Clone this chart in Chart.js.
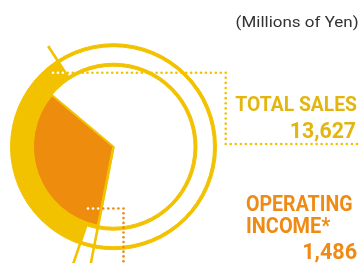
<!DOCTYPE html>
<html>
<head>
<meta charset="utf-8">
<script src="https://cdn.jsdelivr.net/npm/chart.js@4.4.0/dist/chart.umd.min.js"></script>
<style>
  html, body { margin: 0; padding: 0; background: #fff; }
  #wrap { position: relative; width: 360px; height: 263px; overflow: hidden; }
  #chart { position: absolute; left: 0; top: 0; }
  .lbl { position: absolute; left: 0; top: 0; white-space: nowrap; line-height: 1; }
  .lbl i { display: inline-block; width: 0; height: 0; }
</style>
</head>
<body>
<div id="wrap">
  <canvas id="chart" width="360" height="263"></canvas>
</div>
<script>
// --- data ---
const seriesNames = ["TOTAL SALES", "OPERATING INCOME*"];
const seriesValues = [13627, 1486];
const unitLabel = "(Millions of Yen)";
// sweeps, degrees clockwise from 12 o'clock
const salesArc = [199, 128, 33];   // gap, band, gap
const incomeArc = [191, 119, 50];  // gap, slice, gap
const ringArc = [360];

// colours
const YELLOW = "#F2C200";
const ORANGE = "#EE8C0E";
const CLEAR = "rgba(0,0,0,0)";
const SALES_TEXT = "#E3B50F";
const INCOME_TEXT = "#EE8B16";

const fmt = v => v.toLocaleString("en-US");

// angle helper: arc angles from chart.js start at -PI/2
function inArc(el, px, py, pad) {
  const dx = px - el.x, dy = py - el.y;
  const r = Math.hypot(dx, dy);
  let a = Math.atan2(dy, dx);
  if (a < -Math.PI / 2) a += Math.PI * 2;
  return r >= el.innerRadius - pad && r <= el.outerRadius + pad &&
         a >= el.startAngle && a <= el.endAngle;
}

function dotsAlong(path, step) {
  const out = [];
  for (let i = 0; i < path.length - 1; i++) {
    const [x0, y0] = path[i], [x1, y1] = path[i + 1];
    const n = Math.max(1, Math.round(Math.hypot(x1 - x0, y1 - y0) / step));
    for (let k = 0; k < n; k++) out.push([x0 + (x1 - x0) * k / n, y0 + (y1 - y0) * k / n]);
  }
  out.push(path[path.length - 1]);
  return out;
}

// radial extension strokes + dotted leaders
const leaders = {
  id: "leaders",
  afterDatasetsDraw(chart) {
    const ctx = chart.ctx;
    const band = chart.getDatasetMeta(1).data[1];
    const slice = chart.getDatasetMeta(3).data[1];

    function radial(el, angle, r0, r1) {
      ctx.beginPath();
      ctx.moveTo(el.x + Math.cos(angle) * r0, el.y + Math.sin(angle) * r0);
      ctx.lineTo(el.x + Math.cos(angle) * r1, el.y + Math.sin(angle) * r1);
      ctx.stroke();
    }
    ctx.save();
    ctx.strokeStyle = YELLOW;
    ctx.lineWidth = 2.6;
    radial(band, band.startAngle, band.innerRadius, 135);
    radial(band, band.endAngle, band.innerRadius, 120);
    radial(slice, slice.startAngle, 0, 135);

    function dots(path, color) {
      dotsAlong(path, 5).forEach(([x, y]) => {
        const covered = inArc(band, x, y, 3) || inArc(slice, x, y, 0);
        ctx.fillStyle = covered ? "#fff" : color;
        ctx.beginPath();
        ctx.arc(x, y, 1.3, 0, Math.PI * 2);
        ctx.fill();
      });
    }
    dots([[53, 72.7], [225.7, 72.7], [225.7, 144], [362, 144]], YELLOW);
    dots([[88, 208.5], [123.5, 208.5], [123.5, 266]], INCOME_TEXT);
    ctx.restore();
  }
};

new Chart(document.getElementById("chart"), {
  type: "doughnut",
  data: {
    datasets: [
      { data: ringArc, weight: 3, backgroundColor: [YELLOW], borderColor: YELLOW, borderWidth: 1 },
      { data: salesArc, weight: 16.5, backgroundColor: [CLEAR, YELLOW, CLEAR],
        borderColor: YELLOW, borderWidth: [0, 1.2, 0] },
      { data: ringArc, weight: 3, backgroundColor: [YELLOW], borderColor: YELLOW, borderWidth: 1 },
      { data: incomeArc, weight: 80.5, backgroundColor: [CLEAR, ORANGE, CLEAR],
        borderColor: YELLOW, borderWidth: [0, 2, 0] }
    ]
  },
  options: {
    responsive: false,
    animation: false,
    events: [],
    radius: 103,
    cutout: 0,
    layout: { padding: { left: 0, right: 133, top: 30.4, bottom: 0 } },
    plugins: { legend: { display: false }, tooltip: { enabled: false } }
  },
  plugins: [leaders]
});

// --- text labels (html), fitted to baseline and width ---
const incomeWords = seriesNames[1].split(" ");
const labelLayout = [
  { text: unitLabel, x: 358.3, anchor: "right", base: 26.7, w: 123, font: "400 15px Roboto", color: "#333" },
  { text: seriesNames[0], x: 356.7, anchor: "right", base: 111, w: 121.7, font: "700 20px Roboto", color: SALES_TEXT },
  { text: fmt(seriesValues[0]), x: 355.7, anchor: "right", base: 137.7, w: 66.4, font: "700 22.5px Roboto", color: SALES_TEXT },
  { text: incomeWords[0], x: 245.7, anchor: "left", base: 211, w: 106.6, font: "700 22.5px Roboto", color: INCOME_TEXT },
  { text: incomeWords[1], x: 245.7, anchor: "left", base: 232.7, w: 84.3, font: "700 22px Roboto", color: INCOME_TEXT },
  { text: fmt(seriesValues[1]), x: 356.7, anchor: "right", base: 259.3, w: 55, font: "700 22.5px Roboto", color: INCOME_TEXT }
];

const wrap = document.getElementById("wrap");
const els = labelLayout.map(l => {
  const d = document.createElement("div");
  d.className = "lbl";
  d.style.font = l.font;
  d.style.color = l.color;
  const s = document.createElement("span");
  s.textContent = l.text;
  d.appendChild(s);
  d.appendChild(document.createElement("i"));
  wrap.appendChild(d);
  return d;
});

function placeLabels() {
  const box = wrap.getBoundingClientRect();
  labelLayout.forEach((l, i) => {
    const d = els[i];
    d.style.transform = "none";
    d.style.top = "0px";
    const span = d.firstChild.getBoundingClientRect();
    const mark = d.lastChild.getBoundingClientRect();
    const w = span.width;
    const k = l.w / w;
    d.style.top = (l.base - (mark.top - box.top)) + "px";
    if (l.anchor === "right") {
      d.style.left = (l.x - w) + "px";
      d.style.transformOrigin = "right center";
    } else {
      d.style.left = l.x + "px";
      d.style.transformOrigin = "left center";
    }
    d.style.transform = "scaleX(" + k + ")";
  });
}
placeLabels();
if (document.fonts) document.fonts.ready.then(placeLabels);
</script>
</body>
</html>
